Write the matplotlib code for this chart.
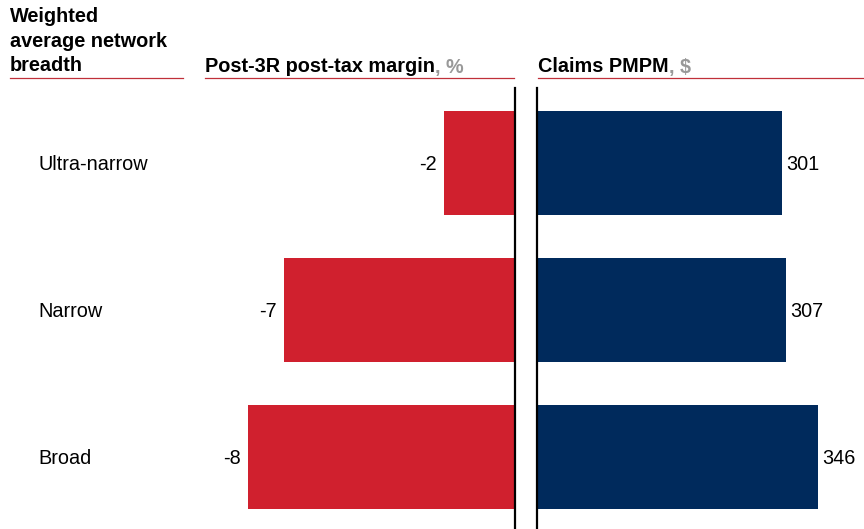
import matplotlib.pyplot as plt
from matplotlib.transforms import blended_transform_factory

plt.rcParams["font.family"] = ["Liberation Sans", "DejaVu Sans"]

categories = ["Ultra-narrow", "Narrow", "Broad"]
margin = [-2.15, -7.0, -8.1]
margin_labels = ["-2", "-7", "-8"]
claims = [301, 307, 346]
claims_labels = ["301", "307", "346"]

RED = "#D0202E"
NAVY = "#002A5C"
LINE = "#C0303A"
FS = 14.3

W, H = 864, 529
fig = plt.figure(figsize=(W / 100, H / 100), dpi=100)


def ax_px(x0, x1, y0, y1):
    return fig.add_axes([x0 / W, 1 - y1 / H, (x1 - x0) / W, (y1 - y0) / H])


ax_l = ax_px(205, 515, 88, 529)
ax_r = ax_px(537, 864, 88, 529)

pos = list(range(len(categories)))
for ax in (ax_l, ax_r):
    ax.set_ylim(2.493, -0.51)
    for s in ax.spines.values():
        s.set_visible(False)
    ax.set_xticks([])
    ax.set_yticks([])
    ax.patch.set_alpha(0)

ax_l.set_xlim(-310 / 33, 0)
ax_r.set_xlim(0, 327 / 0.8125)

ax_l.barh(pos, margin, height=0.707, color=RED)
ax_r.barh(pos, claims, height=0.707, color=NAVY)

ax_l.spines["right"].set_visible(True)
ax_l.spines["right"].set_linewidth(1.6)
ax_r.spines["left"].set_visible(True)
ax_r.spines["left"].set_linewidth(1.6)

for p, v, lab in zip(pos, margin, margin_labels):
    ax_l.annotate(lab, (v, p), xytext=(-5, -1.5), textcoords="offset points",
                  ha="right", va="center", fontsize=FS)
for p, v, lab in zip(pos, claims, claims_labels):
    ax_r.annotate(lab, (v, p), xytext=(3, -1.5), textcoords="offset points",
                  ha="left", va="center", fontsize=FS)

tr = blended_transform_factory(fig.transFigure, ax_l.transData)
for p, c in zip(pos, categories):
    ax_l.annotate(c, (38 / W, p), xycoords=tr, xytext=(0, -1.5), textcoords="offset points",
                  ha="left", va="center", fontsize=FS, annotation_clip=False)

# headers
fig.text(10 / W, 1 - 7 / H, "Weighted\naverage network\nbreadth", ha="left", va="top",
         fontsize=FS, fontweight="bold", linespacing=1.38)
t1 = fig.text(205 / W, 1 - 67 / H, "Post-3R post-tax margin", ha="left", va="center",
              fontsize=FS, fontweight="bold")
t2 = fig.text(538 / W, 1 - 67 / H, "Claims PMPM", ha="left", va="center",
              fontsize=FS, fontweight="bold")

r = fig.canvas.get_renderer()
for t, suffix in ((t1, ", %"), (t2, ", $")):
    bb = t.get_window_extent(r)
    fig.text(bb.x1 / W, 1 - 67 / H, suffix, ha="left", va="center",
             fontsize=FS, fontweight="bold", color="#999999")

for x0, x1 in ((10, 183), (205, 514), (538, 864)):
    fig.add_artist(plt.Line2D([x0 / W, x1 / W], [1 - 78 / H] * 2,
                              transform=fig.transFigure, color=LINE, lw=0.9))

fig.savefig("out.png", dpi=100)
